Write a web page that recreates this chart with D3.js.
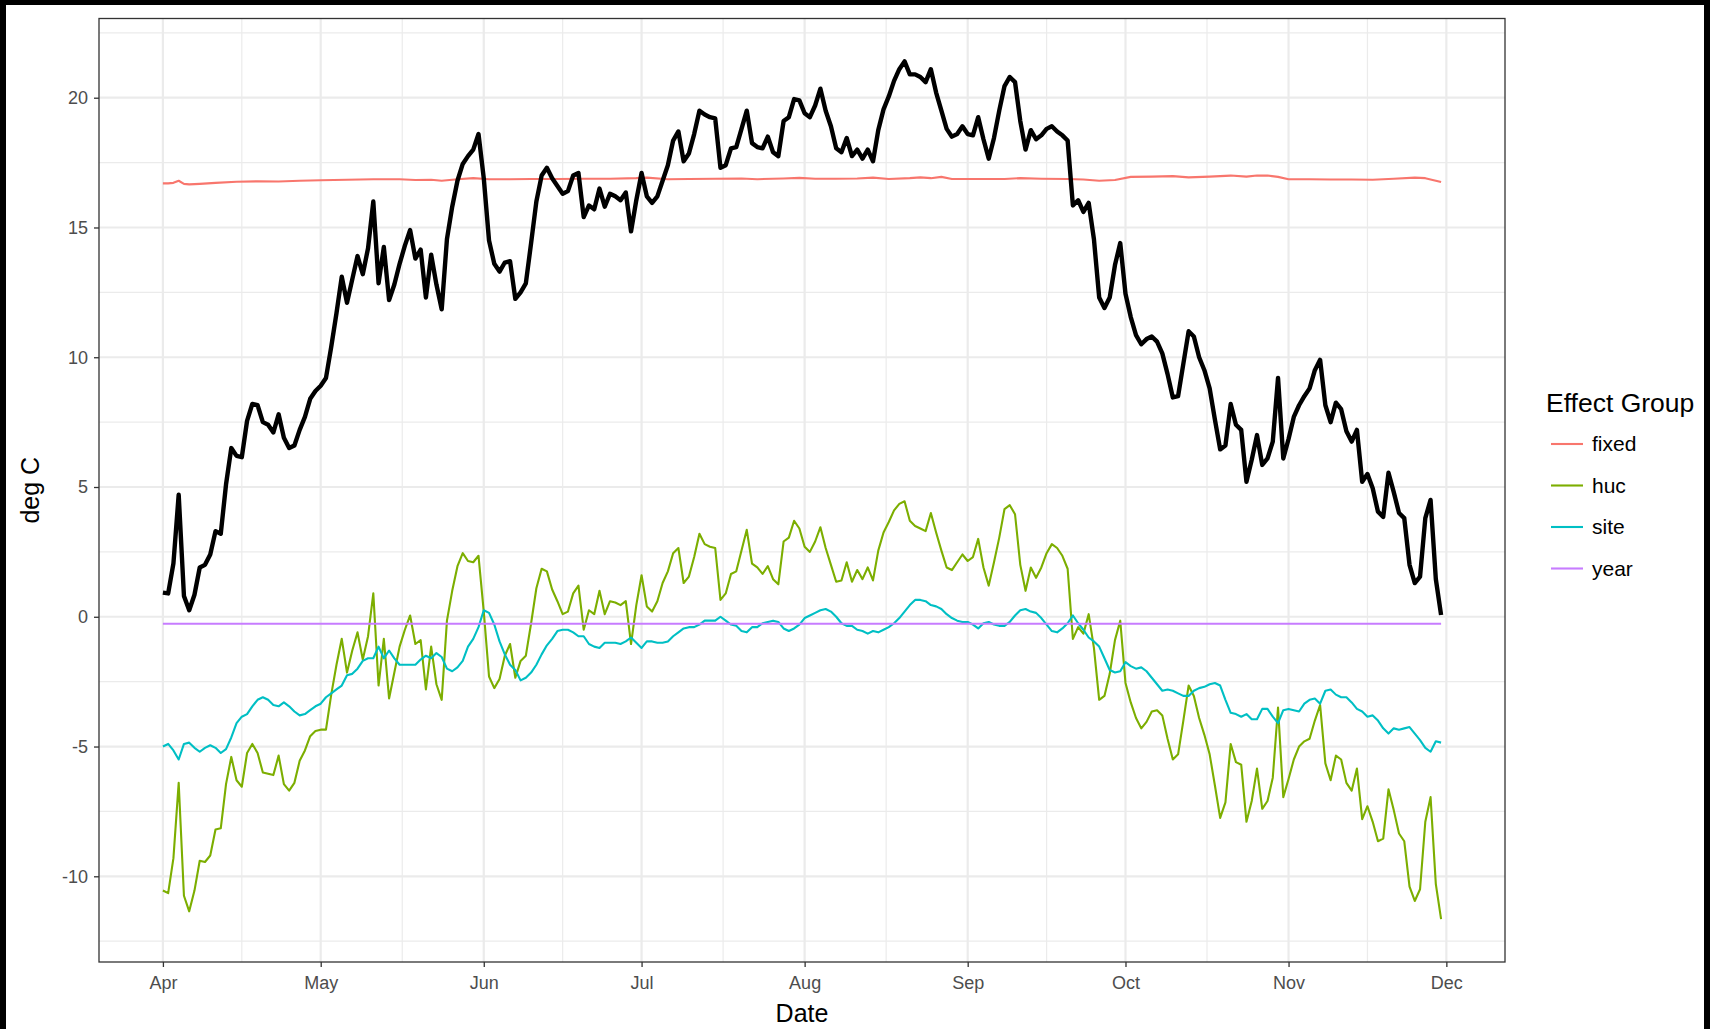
<!DOCTYPE html>
<html>
<head>
<meta charset="utf-8">
<script src="https://cdn.jsdelivr.net/npm/d3@7"></script>
<style>
  html, body { margin: 0; padding: 0; background: #fff; }
  svg { display: block; }
</style>
</head>
<body>
<svg id="chart" width="1710" height="1029"></svg>
<script>
// Daily series start on this date (Apr 1) and run for 244 days (to Nov 30).
const startDate = "2010-04-01";

// Total modelled temperature (deg C), one value per day.
const totalValues = [
  0.93, 0.9, 2.06, 4.7, 0.8, 0.25, 0.85, 1.9, 2.0, 2.4,
  3.3, 3.2, 5.1, 6.5, 6.2, 6.15, 7.55, 8.2, 8.15, 7.5,
  7.4, 7.1, 7.8, 6.9, 6.5, 6.6, 7.2, 7.7, 8.4, 8.7,
  8.9, 9.2, 10.4, 11.7, 13.1, 12.1, 13.0, 13.9, 13.2, 14.2,
  16.0, 12.85, 14.25, 12.2, 12.8, 13.6, 14.3, 14.9, 13.8, 14.15,
  12.3, 13.95, 12.8, 11.85, 14.55, 15.8, 16.8, 17.45, 17.75, 18.0,
  18.6, 16.9, 14.5, 13.6, 13.3, 13.65, 13.7, 12.25, 12.5, 12.85,
  14.4, 16.0, 17.0, 17.3, 16.9, 16.6, 16.3, 16.4, 17.0, 17.1,
  15.4, 15.85, 15.7, 16.5, 15.8, 16.3, 16.2, 16.05, 16.35, 14.85,
  16.05, 17.1, 16.2, 15.95, 16.2, 16.8, 17.4, 18.35, 18.7, 17.55,
  17.85, 18.6, 19.5, 19.35, 19.25, 19.2, 17.3, 17.4, 18.05, 18.1,
  18.8, 19.5, 18.25, 18.1, 18.05, 18.5, 17.9, 17.75, 19.1, 19.25,
  19.95, 19.9, 19.4, 19.25, 19.7, 20.35, 19.5, 18.9, 18.05, 17.9,
  18.45, 17.75, 18.0, 17.65, 18.0, 17.55, 18.75, 19.55, 20.05, 20.65,
  21.1, 21.4, 20.9, 20.9, 20.8, 20.6, 21.1, 20.2, 19.5, 18.8,
  18.5, 18.6, 18.9, 18.6, 18.55, 19.25, 18.4, 17.65, 18.45, 19.5,
  20.45, 20.8, 20.6, 19.1, 18.0, 18.75, 18.4, 18.55, 18.8, 18.9,
  18.7, 18.55, 18.35, 15.85, 16.05, 15.6, 15.95, 14.55, 12.3, 11.9,
  12.3, 13.55, 14.4, 12.45, 11.55, 10.85, 10.5, 10.7, 10.8, 10.6,
  10.15, 9.35, 8.45, 8.5, 9.75, 11.0, 10.8, 10.0, 9.5, 8.8,
  7.6, 6.45, 6.6, 8.2, 7.4, 7.2, 5.2, 6.05, 7.0, 5.85,
  6.1, 6.75, 9.2, 6.1, 6.85, 7.7, 8.15, 8.5, 8.8, 9.5,
  9.9, 8.15, 7.5, 8.25, 8.0, 7.15, 6.75, 7.2, 5.2, 5.5,
  4.95, 4.05, 3.85, 5.55, 4.8, 4.0, 3.8, 2.0, 1.3, 1.55,
  3.8, 4.5, 1.45, 0.07
];

// Effect group "huc", one value per day.
const hucValues = [
  -10.55, -10.65, -9.3, -6.4, -10.75, -11.35, -10.55, -9.4, -9.45, -9.2,
  -8.2, -8.15, -6.45, -5.4, -6.3, -6.55, -5.25, -4.9, -5.25, -6.0,
  -6.05, -6.1, -5.35, -6.45, -6.7, -6.4, -5.55, -5.15, -4.6, -4.4,
  -4.35, -4.35, -3.0, -1.85, -0.85, -2.15, -1.3, -0.6, -1.65, -0.75,
  0.9, -2.65, -0.85, -3.15, -2.15, -1.15, -0.5, 0.05, -1.05, -0.9,
  -2.8, -1.15, -2.6, -3.2, -0.15, 1.0, 1.95, 2.45, 2.15, 2.1,
  2.35, 0.2, -2.3, -2.75, -2.4, -1.5, -1.05, -2.35, -1.7, -1.5,
  -0.25, 1.1, 1.85, 1.75, 1.05, 0.6, 0.1, 0.2, 0.9, 1.2,
  -0.5, 0.25, 0.1, 1.0, 0.1, 0.6, 0.55, 0.45, 0.6, -1.05,
  0.45, 1.6, 0.4, 0.2, 0.6, 1.3, 1.75, 2.45, 2.65, 1.3,
  1.55, 2.3, 3.2, 2.8, 2.7, 2.65, 0.65, 0.9, 1.65, 1.75,
  2.55, 3.35, 2.05, 1.9, 1.65, 1.95, 1.45, 1.25, 2.9, 3.05,
  3.7, 3.4, 2.7, 2.5, 2.9, 3.45, 2.65, 2.0, 1.35, 1.4,
  2.1, 1.35, 1.8, 1.45, 1.9, 1.4, 2.55, 3.25, 3.65, 4.1,
  4.35, 4.45, 3.7, 3.5, 3.4, 3.3, 4.0, 3.25, 2.55, 1.9,
  1.8, 2.1, 2.4, 2.15, 2.3, 3.0, 1.9, 1.2, 2.1, 3.05,
  4.15, 4.3, 3.95, 2.0, 1.0, 1.9, 1.5, 1.9, 2.45, 2.8,
  2.65, 2.35, 1.85, -0.85, -0.4, -0.65, 0.1, -1.2, -3.2, -3.05,
  -2.2, -0.9, -0.15, -2.55, -3.3, -3.9, -4.3, -4.05, -3.65, -3.6,
  -3.8, -4.7, -5.5, -5.3, -4.0, -2.65, -3.05, -3.9, -4.55, -5.3,
  -6.5, -7.75, -7.15, -4.9, -5.6, -5.7, -7.9, -7.1, -5.85, -7.4,
  -7.1, -6.2, -3.5, -6.95, -6.25, -5.5, -5.0, -4.8, -4.7, -4.0,
  -3.4, -5.65, -6.3, -5.35, -5.5, -6.4, -6.7, -5.85, -7.8, -7.3,
  -7.9, -8.65, -8.55, -6.65, -7.45, -8.35, -8.65, -10.4, -10.95, -10.5,
  -7.9, -6.95, -10.3, -11.65
];

// Effect group "site", one value per day.
const siteValues = [
  -5.0, -4.9, -5.15, -5.5, -4.9, -4.85, -5.05, -5.2, -5.05, -4.95,
  -5.05, -5.25, -5.1, -4.65, -4.1, -3.85, -3.75, -3.45, -3.2, -3.1,
  -3.2, -3.4, -3.45, -3.3, -3.45, -3.65, -3.8, -3.75, -3.6, -3.45,
  -3.35, -3.1, -2.95, -2.8, -2.65, -2.25, -2.2, -2.0, -1.7, -1.6,
  -1.6, -1.15, -1.6, -1.3, -1.6, -1.85, -1.85, -1.85, -1.85, -1.65,
  -1.5, -1.6, -1.4, -1.55, -2.0, -2.1, -1.95, -1.7, -1.15, -0.85,
  -0.4, 0.25, 0.15, -0.3, -0.95, -1.45, -1.85, -2.05, -2.45, -2.35,
  -2.15, -1.85, -1.45, -1.1, -0.85, -0.55, -0.5, -0.5, -0.6, -0.75,
  -0.75, -1.05, -1.15, -1.2, -1.0, -1.0, -1.0, -1.05, -0.95, -0.8,
  -1.0, -1.2, -0.95, -0.95, -1.0, -1.0, -0.95, -0.75, -0.6, -0.45,
  -0.4, -0.4, -0.3, -0.15, -0.15, -0.15, 0.0, -0.15, -0.3, -0.35,
  -0.55, -0.6, -0.4, -0.4, -0.25, -0.2, -0.15, -0.2, -0.45, -0.55,
  -0.45, -0.3, -0.05, 0.05, 0.15, 0.25, 0.3, 0.2, 0.0, -0.25,
  -0.35, -0.35, -0.5, -0.55, -0.65, -0.55, -0.6, -0.5, -0.4, -0.25,
  -0.05, 0.2, 0.45, 0.65, 0.65, 0.6, 0.45, 0.4, 0.3, 0.1,
  -0.05, -0.15, -0.2, -0.2, -0.3, -0.45, -0.25, -0.2, -0.3, -0.35,
  -0.35, -0.2, 0.05, 0.25, 0.3, 0.2, 0.15, -0.05, -0.3, -0.55,
  -0.6, -0.45, -0.25, 0.05, -0.25, -0.5, -0.8, -0.95, -1.15, -1.6,
  -2.05, -2.15, -2.1, -1.75, -1.9, -2.0, -1.95, -2.1, -2.35, -2.6,
  -2.85, -2.8, -2.85, -2.95, -3.05, -3.05, -2.85, -2.75, -2.7, -2.6,
  -2.55, -2.65, -3.2, -3.7, -3.75, -3.85, -3.75, -3.95, -3.95, -3.55,
  -3.55, -3.85, -4.1, -3.6, -3.55, -3.6, -3.65, -3.35, -3.2, -3.15,
  -3.35, -2.85, -2.8, -3.0, -3.1, -3.1, -3.3, -3.55, -3.65, -3.85,
  -3.8, -4.0, -4.3, -4.5, -4.3, -4.35, -4.3, -4.25, -4.5, -4.75,
  -5.05, -5.2, -4.8, -4.85
];

// Effect group "fixed": slowly varying, read at these day offsets from startDate.
const fixedDays = [
  0, 1, 2, 3, 4, 5, 7, 10, 14, 18, 22, 26, 30, 35, 40, 45, 48, 51, 53, 56,
  59, 62, 66, 70, 75, 80, 85, 90, 92, 96, 100, 105, 110, 113, 118, 121, 124, 128, 132, 135,
  138, 142, 144, 146, 148, 150, 155, 160, 163, 167, 172, 175, 178, 181, 184, 188, 192, 195, 199, 203,
  206, 208, 210, 212, 214, 218, 222, 226, 230, 234, 238, 240, 243
];
const fixedValues = [
  16.70, 16.70, 16.72, 16.80, 16.68, 16.66, 16.68, 16.72, 16.76, 16.78, 16.77, 16.80, 16.82, 16.84, 16.86, 16.86, 16.83, 16.84, 16.80, 16.86,
  16.90, 16.86, 16.86, 16.87, 16.87, 16.88, 16.88, 16.90, 16.92, 16.86, 16.87, 16.88, 16.89, 16.86, 16.89, 16.91, 16.88, 16.88, 16.89, 16.92,
  16.87, 16.90, 16.93, 16.90, 16.95, 16.87, 16.87, 16.87, 16.90, 16.88, 16.87, 16.85, 16.80, 16.83, 16.95, 16.96, 16.98, 16.93, 16.96, 17.00,
  16.96, 17.00, 17.00, 16.95, 16.86, 16.86, 16.85, 16.85, 16.84, 16.88, 16.92, 16.90, 16.75
];

// Effect group "year": a single constant offset over the whole period.
const yearDays = [0, 243];
const yearValues = [-0.27, -0.27];

// Axis ticks and legend.
const monthTicks = ["2010-04-01", "2010-05-01", "2010-06-01", "2010-07-01", "2010-08-01",
                    "2010-09-01", "2010-10-01", "2010-11-01", "2010-12-01"];
const monthLabels = ["Apr", "May", "Jun", "Jul", "Aug", "Sep", "Oct", "Nov", "Dec"];
const yTicks = [-10, -5, 0, 5, 10, 15, 20];
const yTickLabels = ["-10", "-5", "0", "5", "10", "15", "20"];
const groups = ["fixed", "huc", "site", "year"];
const groupColors = ["#F8766D", "#7CAE00", "#00BFC4", "#C77CFF"];

// ---------------------------------------------------------------------------
const parse = d3.utcParse("%Y-%m-%d");
const t0 = parse(startDate);
const dayToDate = d => d3.utcDay.offset(t0, d);

const svg = d3.select("#chart");
const panel = { left: 99, top: 18.5, right: 1505, bottom: 962 };
const FONT = "'Liberation Sans', Arial, Helvetica, sans-serif";

// dark frame around the image edges (top, left, right)
svg.append("rect").attr("x", 0).attr("y", 0).attr("width", 1710).attr("height", 5).attr("fill", "#000");
svg.append("rect").attr("x", 0).attr("y", 0).attr("width", 6).attr("height", 1029).attr("fill", "#000");
svg.append("rect").attr("x", 1704).attr("y", 0).attr("width", 6).attr("height", 1029).attr("fill", "#000");

// x: dates with 5% padding either side of the data range
const xDataMin = dayToDate(0), xDataMax = dayToDate(totalValues.length - 1);
const xSpan = xDataMax - xDataMin;
const x = d3.scaleUtc()
  .domain([new Date(+xDataMin - 0.05 * xSpan), new Date(+xDataMax + 0.05 * xSpan)])
  .range([panel.left, panel.right]);

const allVals = [].concat(totalValues, hucValues, siteValues, fixedValues, yearValues);
const yMin = d3.min(allVals), yMax = d3.max(allVals), ySpan = yMax - yMin;
const y = d3.scaleLinear()
  .domain([yMin - 0.05 * ySpan, yMax + 0.05 * ySpan])
  .range([panel.bottom, panel.top]);

// panel background
svg.append("rect")
  .attr("x", panel.left).attr("y", panel.top)
  .attr("width", panel.right - panel.left).attr("height", panel.bottom - panel.top)
  .attr("fill", "#fff");

const grid = svg.append("g");
const tickDates = monthTicks.map(parse);
const minorDates = d3.pairs(tickDates).map(([a, b]) => new Date((+a + +b) / 2));
const yMinor = d3.range(-12.5, 25, 5).filter(v => v > y.domain()[0] && v < y.domain()[1]);

// minor grid
grid.selectAll(".ym").data(yMinor).join("line")
  .attr("x1", panel.left).attr("x2", panel.right)
  .attr("y1", d => y(d)).attr("y2", d => y(d))
  .attr("stroke", "#ebebeb").attr("stroke-width", 1.2);
grid.selectAll(".xm").data(minorDates).join("line")
  .attr("y1", panel.top).attr("y2", panel.bottom)
  .attr("x1", d => x(d)).attr("x2", d => x(d))
  .attr("stroke", "#ebebeb").attr("stroke-width", 1.2);
// major grid
grid.selectAll(".yM").data(yTicks).join("line")
  .attr("x1", panel.left).attr("x2", panel.right)
  .attr("y1", d => y(d)).attr("y2", d => y(d))
  .attr("stroke", "#ebebeb").attr("stroke-width", 2.2);
grid.selectAll(".xM").data(tickDates).join("line")
  .attr("y1", panel.top).attr("y2", panel.bottom)
  .attr("x1", d => x(d)).attr("x2", d => x(d))
  .attr("stroke", "#ebebeb").attr("stroke-width", 2.2);

// series
const line = d3.line().x(d => x(d.date)).y(d => y(d.value));
const toDaily = vals => vals.map((v, i) => ({ date: dayToDate(i), value: v }));
const toPairs = (days, vals) => days.map((d, i) => ({ date: dayToDate(d), value: vals[i] }));

const effectSeries = [
  toPairs(fixedDays, fixedValues),
  toDaily(hucValues),
  toDaily(siteValues),
  toPairs(yearDays, yearValues)
];

const plot = svg.append("g");
effectSeries.forEach((s, i) => {
  plot.append("path").datum(s)
    .attr("d", line)
    .attr("fill", "none")
    .attr("stroke", groupColors[i])
    .attr("stroke-width", 2.1)
    .attr("stroke-linejoin", "round");
});
plot.append("path").datum(toDaily(totalValues))
  .attr("d", line)
  .attr("fill", "none")
  .attr("stroke", "#000")
  .attr("stroke-width", 4.4)
  .attr("stroke-linejoin", "round");

// panel border
svg.append("rect")
  .attr("x", panel.left).attr("y", panel.top)
  .attr("width", panel.right - panel.left).attr("height", panel.bottom - panel.top)
  .attr("fill", "none").attr("stroke", "#333").attr("stroke-width", 1.3);

// axes
const xAxis = d3.axisBottom(x).tickValues(tickDates)
  .tickFormat((d, i) => monthLabels[i]).tickSize(5).tickPadding(9);
const gx = svg.append("g").attr("transform", `translate(0,${panel.bottom})`).call(xAxis);
const yAxis = d3.axisLeft(y).tickValues(yTicks)
  .tickFormat((d, i) => yTickLabels[i]).tickSize(5).tickPadding(6);
const gy = svg.append("g").attr("transform", `translate(${panel.left},0)`).call(yAxis);
[gx, gy].forEach(g => {
  g.select(".domain").remove();
  g.selectAll(".tick line").attr("stroke", "#333").attr("stroke-width", 1.3);
  g.selectAll(".tick text").attr("fill", "#4d4d4d")
    .style("font-family", FONT).style("font-size", "18px");
});

// axis titles
svg.append("text").attr("x", (panel.left + panel.right) / 2).attr("y", 1022)
  .attr("text-anchor", "middle").attr("fill", "#000")
  .style("font-family", FONT).style("font-size", "25px").text("Date");
svg.append("text")
  .attr("transform", `translate(39,${(panel.top + panel.bottom) / 2}) rotate(-90)`)
  .attr("text-anchor", "middle").attr("fill", "#000")
  .style("font-family", FONT).style("font-size", "25px").text("deg C");

// legend
const legend = svg.append("g").attr("transform", "translate(1546,0)");
legend.append("text").attr("x", 0).attr("y", 412)
  .attr("fill", "#000").style("font-family", FONT).style("font-size", "26.5px")
  .text("Effect Group");
groups.forEach((g, i) => {
  const cy = 444 + i * 41.5;
  legend.append("line").attr("x1", 5).attr("x2", 37).attr("y1", cy).attr("y2", cy)
    .attr("stroke", groupColors[i]).attr("stroke-width", 2.1);
  legend.append("text").attr("x", 46).attr("y", cy).attr("dy", "0.35em")
    .attr("fill", "#000").style("font-family", FONT).style("font-size", "21px")
    .text(g);
});
</script>
</body>
</html>
